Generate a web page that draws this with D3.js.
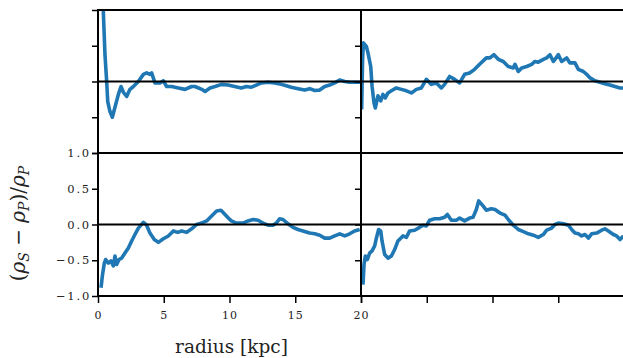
<!DOCTYPE html>
<html>
<head>
<meta charset="utf-8">
<script src="https://cdn.jsdelivr.net/npm/d3@7"></script>
<style>
  body { margin: 0; background: #fff; }
</style>
</head>
<body>
<svg id="chart" width="623" height="358"></svg>
<script>
// frame of the 2x2 grid
const marginLeft = 98, marginTop = 10;
const pw = 263, ph = 143;
const serif = "'DejaVu Serif', 'Liberation Serif', serif";

// tick values / labels
const xTicks = [0, 5, 10, 15, 20];
const yTicks = [-1, -0.5, 0, 0.5, 1];
const yTickLabels = ["\u22121.0", "\u22120.5", "0.0", "0.5", "1.0"];

// (radius [kpc], relative density difference)
const topLeft = [[0.2, 1.6], [0.4, 1.0], [0.53, 0.375], [0.66, 0], [0.74, -0.28], [0.91, -0.42], [1.09, -0.5],
  [1.29, -0.36], [1.55, -0.18], [1.75, -0.07], [1.93, -0.15], [2.18, -0.21], [2.43, -0.11], [2.69, -0.07],
  [3.07, 0], [3.45, 0.1], [3.7, 0.12], [3.95, 0.1], [4.08, 0.12], [4.33, -0.02], [4.71, -0.02], [4.97, 0.01],
  [5.22, -0.07], [5.6, -0.07], [6.11, -0.09], [6.62, -0.11], [7.12, -0.07], [7.37, -0.07], [7.89, -0.11],
  [8.14, -0.14], [8.52, -0.09], [8.9, -0.07], [9.4, -0.04], [9.89, -0.05], [10.39, -0.07], [10.9, -0.09],
  [11.28, -0.07], [11.66, -0.08], [12.04, -0.05], [12.42, -0.02], [12.93, -0.01], [13.43, -0.02],
  [13.94, -0.04], [14.32, -0.06], [14.7, -0.08], [15.21, -0.1], [15.72, -0.12], [16.1, -0.1], [16.48, -0.125],
  [16.86, -0.12], [17.24, -0.07], [17.62, -0.05], [18.0, -0.02], [18.38, 0.02], [18.76, 0], [19.14, -0.01],
  [19.51, -0.01], [20.0, -0.01]];

const topRight = [[0.05, -0.39], [0.12, 0.3], [0.18, 0.54], [0.41, 0.49], [0.53, 0.4], [0.74, 0.21],
  [0.84, -0.065], [0.99, -0.3], [1.09, -0.37], [1.29, -0.2], [1.5, -0.27], [1.67, -0.18], [1.85, -0.23],
  [2.05, -0.16], [2.31, -0.13], [2.69, -0.09], [3.07, -0.11], [3.45, -0.13], [3.83, -0.16], [4.21, -0.11],
  [4.59, -0.09], [4.97, 0.03], [5.35, -0.04], [5.73, -0.02], [6.11, -0.09], [6.36, -0.04], [6.74, 0.07],
  [7.12, 0.03], [7.5, -0.02], [7.88, 0.1], [8.26, 0.12], [8.64, 0.17], [9.02, 0.24], [9.53, 0.33],
  [9.81, 0.33], [10.11, 0.375], [10.44, 0.31], [10.82, 0.28], [11.2, 0.21], [11.58, 0.19], [11.71, 0.24],
  [11.96, 0.14], [12.22, 0.19], [12.6, 0.21], [12.98, 0.24], [13.23, 0.28], [13.48, 0.27], [13.87, 0.31],
  [14.12, 0.33], [14.37, 0.375], [14.63, 0.28], [15.01, 0.375], [15.26, 0.28], [15.64, 0.33], [15.89, 0.26],
  [16.27, 0.26], [16.53, 0.17], [16.91, 0.14], [17.16, 0.1], [17.42, 0.05], [17.79, 0.01], [18.17, -0.01],
  [18.55, -0.03], [18.93, -0.05], [19.31, -0.07], [19.69, -0.09], [19.95, -0.09]];

const bottomLeft = [[0.23, -0.885], [0.33, -0.72], [0.48, -0.54], [0.58, -0.49], [0.79, -0.54], [0.99, -0.51],
  [1.17, -0.58], [1.29, -0.44], [1.42, -0.56], [1.6, -0.49], [1.8, -0.47], [2.05, -0.4], [2.31, -0.33],
  [2.56, -0.23], [2.81, -0.14], [3.07, -0.05], [3.45, 0.03], [3.7, -0.01], [3.95, -0.12], [4.28, -0.21],
  [4.59, -0.25], [4.97, -0.2], [5.35, -0.16], [5.73, -0.09], [6.06, -0.11], [6.36, -0.09], [6.74, -0.11],
  [7.12, -0.06], [7.5, 0], [7.88, 0.02], [8.26, 0.05], [8.64, 0.12], [9.02, 0.19], [9.35, 0.2], [9.66, 0.14],
  [9.91, 0.09], [10.14, 0.05], [10.52, 0.02], [11.03, 0.02], [11.41, 0.05], [11.79, 0.07], [12.17, 0.06],
  [12.55, 0.02], [12.93, -0.01], [13.31, -0.01], [13.56, 0.02], [13.81, 0.08], [14.07, 0.07], [14.45, 0.01],
  [14.83, -0.04], [15.21, -0.07], [15.59, -0.09], [16.09, -0.12], [16.48, -0.13], [16.86, -0.15],
  [17.24, -0.19], [17.62, -0.19], [18.0, -0.16], [18.38, -0.13], [18.76, -0.16], [19.14, -0.13],
  [19.51, -0.09], [19.9, -0.07]];

const bottomRight = [[0.15, -0.84], [0.23, -0.56], [0.33, -0.44], [0.48, -0.49], [0.66, -0.4], [0.84, -0.37],
  [1.04, -0.3], [1.17, -0.19], [1.34, -0.07], [1.5, -0.09], [1.6, -0.23], [1.8, -0.42], [2.05, -0.47],
  [2.31, -0.44], [2.56, -0.35], [2.81, -0.23], [3.19, -0.16], [3.45, -0.18], [3.7, -0.09], [4.08, -0.08],
  [4.46, -0.04], [4.71, -0.01], [4.97, -0.02], [5.22, 0.06], [5.6, 0.08], [5.98, 0.08], [6.36, 0.1],
  [6.57, 0.14], [6.87, 0.06], [7.25, 0.06], [7.5, 0.09], [7.88, 0.05], [8.26, 0.09], [8.52, 0.1],
  [8.77, 0.21], [8.95, 0.33], [9.28, 0.26], [9.53, 0.2], [9.91, 0.22], [10.19, 0.21], [10.57, 0.16],
  [10.95, 0.13], [11.2, 0.07], [11.58, -0.01], [11.96, -0.07], [12.35, -0.1], [12.73, -0.13], [13.11, -0.15],
  [13.48, -0.18], [13.86, -0.14], [14.12, -0.08], [14.5, -0.05], [14.75, 0], [15.01, 0.02], [15.39, 0.01],
  [15.77, -0.01], [16.02, -0.07], [16.27, -0.12], [16.53, -0.13], [16.78, -0.16], [17.03, -0.14],
  [17.29, -0.19], [17.54, -0.13], [17.92, -0.12], [18.3, -0.08], [18.55, -0.06], [18.81, -0.09],
  [19.19, -0.14], [19.44, -0.16], [19.7, -0.21], [19.95, -0.16]];

const panels = [
  { row: 0, col: 0, data: topLeft },
  { row: 0, col: 1, data: topRight },
  { row: 1, col: 0, data: bottomLeft },
  { row: 1, col: 1, data: bottomRight }
];

const svg = d3.select('#chart');

const x = d3.scaleLinear().domain([0, 20]).range([0, pw]);
const y = d3.scaleLinear().domain([-1, 1]).range([ph, 0]);

const line = d3.line()
  .x(d => x(d[0]))
  .y(d => y(d[1]));

panels.forEach((p, i) => {
  const g = svg.append('g')
    .attr('transform', `translate(${marginLeft + p.col * pw}, ${marginTop + p.row * ph})`);

  g.append('rect')
    .attr('width', pw).attr('height', ph)
    .attr('fill', '#fff');

  g.append('clipPath').attr('id', 'clip' + i)
    .append('rect').attr('width', pw).attr('height', ph);

  g.append('path')
    .datum(p.data)
    .attr('clip-path', `url(#clip${i})`)
    .attr('fill', 'none')
    .attr('stroke', '#1f77b4')
    .attr('stroke-width', 3.6)
    .attr('stroke-linejoin', 'round')
    .attr('d', line);

  // zero line
  g.append('line')
    .attr('x1', 0).attr('x2', pw)
    .attr('y1', y(0)).attr('y2', y(0))
    .attr('stroke', '#000').attr('stroke-width', 2);

  // y ticks (labels only on the bottom-left panel)
  const showY = p.row === 1 && p.col === 0;
  const yAxis = d3.axisLeft(y)
    .tickValues(p.col === 0 ? yTicks : [-0.5, 0, 0.5])
    .tickSize(6)
    .tickFormat(d => showY ? yTickLabels[yTicks.indexOf(d)] : '');
  const ya = g.append('g').call(yAxis).attr('font-family', serif);
  ya.select('.domain').remove();
  ya.selectAll('.tick line').attr('stroke', '#000').attr('stroke-width', 1.5);
  ya.selectAll('.tick text')
    .attr('font-size', 11.5).attr('fill', '#222')
    .attr('x', -7).attr('letter-spacing', 1.8);

  // x ticks
  if (p.row === 1) {
    const xAxis = d3.axisBottom(x)
      .tickValues(p.col === 0 ? xTicks : [0, 5, 10, 15])
      .tickSize(7)
      .tickFormat(d => p.col === 0 ? d : '');
    const xa = g.append('g').attr('transform', `translate(0, ${ph})`).call(xAxis).attr('font-family', serif);
    xa.select('.domain').remove();
    xa.selectAll('.tick line').attr('stroke', '#000').attr('stroke-width', 1.5);
    xa.selectAll('.tick text')
      .attr('font-size', 11).attr('fill', '#222').attr('y', 15)
      .attr('letter-spacing', 1);
  } else if (p.col === 0) {
    const xa = g.append('g').attr('transform', `translate(0, ${ph})`)
      .call(d3.axisBottom(x).tickValues([0, 20]).tickSize(7).tickFormat(''));
    xa.select('.domain').remove();
    xa.selectAll('.tick line').attr('stroke', '#000').attr('stroke-width', 1.5);
  }

  // spines
  g.append('rect')
    .attr('width', pw).attr('height', ph)
    .attr('fill', 'none')
    .attr('stroke', '#000').attr('stroke-width', 2);
});

// axis titles
svg.append('text')
  .attr('x', marginLeft + pw / 2 + 2).attr('y', 353)
  .attr('text-anchor', 'middle')
  .attr('font-family', serif)
  .attr('font-size', 18.5)
  .attr('fill', '#222')
  .text('radius [kpc]');

const yl = svg.append('text')
  .attr('transform', `translate(25, ${marginTop + ph + ph / 2 - 1}) rotate(-90)`)
  .attr('text-anchor', 'middle')
  .attr('font-family', serif)
  .attr('fill', '#222')
  .attr('font-size', 20);
yl.append('tspan').text('(');
yl.append('tspan').attr('font-style', 'italic').text('\u03c1');
yl.append('tspan').attr('font-style', 'italic').attr('font-size', 14).attr('dy', 4).text('S');
yl.append('tspan').attr('dy', -4).text(' \u2212 ');
yl.append('tspan').attr('font-style', 'italic').text('\u03c1');
yl.append('tspan').attr('font-style', 'italic').attr('font-size', 14).attr('dy', 4).text('P');
yl.append('tspan').attr('dy', -4).text(')/');
yl.append('tspan').attr('font-style', 'italic').text('\u03c1');
yl.append('tspan').attr('font-style', 'italic').attr('font-size', 14).attr('dy', 4).text('P');
</script>
</body>
</html>
